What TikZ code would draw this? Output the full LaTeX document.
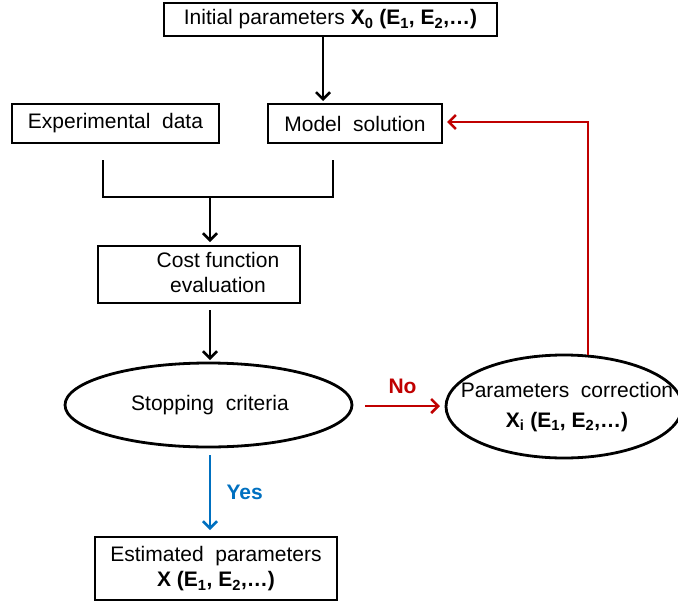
\documentclass[tikz,border=0pt]{standalone}
\usepackage{fontspec}
\setmainfont{Liberation Sans}
\usetikzlibrary{arrows.meta,shapes.geometric}
\definecolor{myred}{RGB}{192,0,0}
\definecolor{myblue}{RGB}{0,112,192}
\newcommand{\bsub}[1]{\textsubscript{\textbf{#1}}}
\begin{document}
\begin{tikzpicture}[x=1pt,y=-1pt,
  font=\fontsize{21}{25}\selectfont,
  box/.style={draw,line width=2.8pt,rectangle,inner sep=0pt},
  oval/.style={draw,line width=2.8pt,ellipse,inner sep=0pt},
  txt/.style={align=center,inner sep=0pt},
  arr/.style={line width=2.5pt,-{Straight Barb[length=7pt,width=14pt,line width=2.5pt]}},
  lin/.style={line width=2.8pt}]
\useasboundingbox (0,0) rectangle (678,608);
\begin{scope}
\clip (0,0) rectangle (678,608);
% boxes
\node[box,minimum width=333pt,minimum height=33pt] (init) at (330.5,19.5) {Initial parameters \textbf{X}\bsub{0} \textbf{(E}\bsub{1}\textbf{, E}\bsub{2}\textbf{,…)}};
\node[box,minimum width=207pt,minimum height=39pt] (exp) at (115.5,123.5) {Experimental\ \ data};
\node[box,minimum width=174pt,minimum height=39pt] (model) at (355,123.5) {Model\ \ solution};
\node[box,minimum width=202pt,minimum height=57pt] (cost) at (199,274.5) {};
\node[txt] (costtxt) at (218,272) {Cost function\\evaluation};
\node[oval,minimum width=287pt,minimum height=84pt] (stop) at (208.5,405) {};
\node[txt] (stoptxt) at (210,405) {Stopping\ \ criteria};
\node[oval,minimum width=236pt,minimum height=103pt] (corr) at (564,406.5) {};
\node[txt] (corrtxt) at (567,407) {Parameters\ \ correction\\[5pt]\textbf{X}\bsub{i} \textbf{(E}\bsub{1}\textbf{, E}\bsub{2}\textbf{,…)}};
\node[box,minimum width=242pt,minimum height=63pt] (est) at (216,568.5) {};
\node[txt] (esttxt) at (216,569) {Estimated\ \ parameters\\\textbf{X (E}\bsub{1}\textbf{, E}\bsub{2}\textbf{,…)}};
% connectors
\coordinate (tA) at (323,37);
\coordinate (tB) at (323,101);
\draw[arr] (tA) -- (tB);
\coordinate (bl) at (103,160);
\coordinate (br) at (333,160);
\coordinate (bm) at (210,197);
\draw[lin] (bl) |- (bm) -| (br);
\draw[arr] (bm) -- (210,242);
\draw[arr] (210,310) -- (210,360);
\draw[arr,myred] (365,406) -- (440,406) node[midway,above=8pt,font=\fontsize{21}{25}\selectfont\bfseries,text=myred] (no) {No};
\draw[arr,myred] (588,355) |- (447,122);
\draw[arr,myblue] (210,455) -- (210,530) node[midway,right=12pt,font=\fontsize{21}{25}\selectfont\bfseries,text=myblue] (yes) {Yes};
\end{scope}
\end{tikzpicture}
\end{document}
